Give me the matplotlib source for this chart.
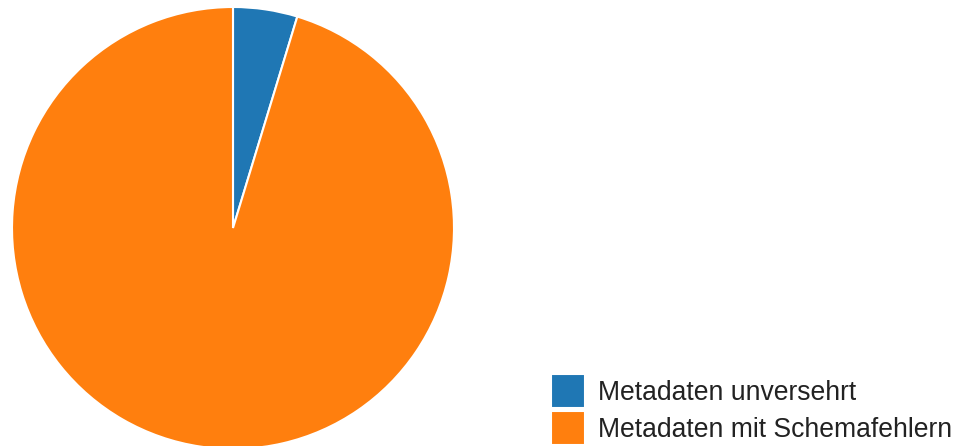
import matplotlib
matplotlib.use("Agg")
import matplotlib.pyplot as plt

# Data
labels = ["Metadaten unversehrt", "Metadaten mit Schemafehlern"]
shares = [4.7, 95.3]
colors = ["#1f77b4", "#ff7f0e"]

W, H = 961, 446
fig = plt.figure(figsize=(W / 100, H / 100), dpi=100)
plt.rcParams["font.family"] = ["Liberation Sans", "DejaVu Sans"]

# pie area in pixels: center (233, 228), radius 221
cx, cy, r = 233, 228, 221
ax = fig.add_axes([(cx - r) / W, (H - cy - r) / H, 2 * r / W, 2 * r / H])
wedges, _ = ax.pie(
    shares,
    colors=colors,
    startangle=90,
    counterclock=False,
    radius=1,
    wedgeprops=dict(edgecolor="white", linewidth=1.5),
)
ax.set_xlim(-1, 1)
ax.set_ylim(-1, 1)
ax.set_aspect("equal")
ax.axis("off")

fpx = 26.5
fs = fpx * 72 / 100
fig.legend(
    wedges,
    labels,
    loc="lower left",
    bbox_to_anchor=(551 / W, 1 / H),
    frameon=False,
    fontsize=fs,
    handlelength=34 / fpx,
    handleheight=1.6,
    handletextpad=13 / fpx,
    labelspacing=0.1,
    borderpad=0,
    borderaxespad=0,
    labelcolor="#222222",
)

fig.savefig("out.png", dpi=100)
